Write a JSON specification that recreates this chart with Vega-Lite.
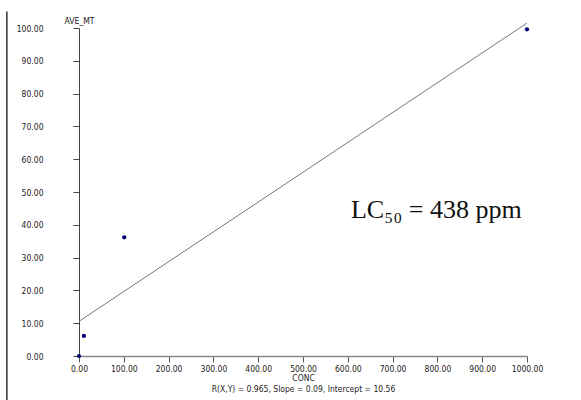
{
  "$schema": "https://vega.github.io/schema/vega-lite/v6.json",
  "autosize": "none",
  "width": 448,
  "height": 328,
  "padding": {"left": 79, "top": 28, "right": 54, "bottom": 44},
  "background": "white",
  "config": {
    "view": {"stroke": null},
    "axis": {
      "labelFont": "DejaVu Sans Condensed, Liberation Sans, sans-serif",
      "titleFont": "DejaVu Sans Condensed, Liberation Sans, sans-serif",
      "labelFontSize": 8.5,
      "titleFontSize": 8.5,
      "titleFontWeight": "normal",
      "labelColor": "#222",
      "titleColor": "#222",
      "labelOverlap": false,
      "grid": false
    }
  },
  "datasets": {
    "pts": [
      {"CONC": 0, "AVE_MT": 0},
      {"CONC": 11, "AVE_MT": 6.1},
      {"CONC": 101, "AVE_MT": 36.2},
      {"CONC": 1000, "AVE_MT": 99.6}
    ],
    "fit": [
      {"CONC": 0, "AVE_MT": 10.56},
      {"CONC": 1000, "AVE_MT": 101.5}
    ]
  },
  "encoding": {
    "x": {
      "field": "CONC", "type": "quantitative",
      "scale": {"domain": [0, 1000], "nice": false, "zero": false},
      "axis": {
        "values": [0,100,200,300,400,500,600,700,800,900,1000],
        "tickCount": 40,
        "format": ".2f",
        "title": ["CONC", "R(X,Y) = 0.965, Slope =  0.09, Intercept =  10.56"],
        "titleLineHeight": 11,
        "titlePadding": 1,
        "tickSize": 6,
        "labelPadding": 2,
        "domainColor": "#888",
        "domainWidth": 1.5,
        "tickColor": "#555",
        "labelFlush": false
      }
    },
    "y": {
      "field": "AVE_MT", "type": "quantitative",
      "scale": {"domain": [0, 100], "nice": false, "zero": false},
      "axis": {
        "values": [0,10,20,30,40,50,60,70,80,90,100],
        "tickCount": 40,
        "format": ".2f",
        "title": "AVE_MT",
        "titleAngle": 0,
        "titleX": 0,
        "titleY": -3,
        "titleAlign": "center",
        "titleBaseline": "bottom",
        "tickSize": 6,
        "labelPadding": 30,
        "labelOverlap": false,
        "domainColor": "#444",
        "tickColor": "#444",
        "labelFlush": false
      }
    }
  },
  "layer": [
    {
      "data": {"name": "fit"},
      "mark": {"type": "line", "color": "#777", "strokeWidth": 1, "clip": false}
    },
    {
      "data": {"name": "pts"},
      "mark": {"type": "point", "filled": true, "color": "#000070", "size": 18, "opacity": 1, "clip": false}
    },
    {
      "data": {"values": [{"label": "LC₅₀ = 438 ppm", "CONC": 607, "AVE_MT": 42}]},
      "mark": {"type": "text", "font": "Liberation Serif, Times New Roman, serif", "fontSize": 26, "align": "left", "baseline": "alphabetic", "color": "#111"},
      "encoding": {
        "text": {"field": "label"}
      }
    },
    {
      "data": {"values": [{"CONC": -161, "AVE_MT": 105, "AVE_MT2": -13.5}]},
      "mark": {"type": "rule", "color": "#333", "strokeWidth": 1.5, "clip": false},
      "encoding": {
        "y2": {"field": "AVE_MT2"}
      }
    }
  ]
}
